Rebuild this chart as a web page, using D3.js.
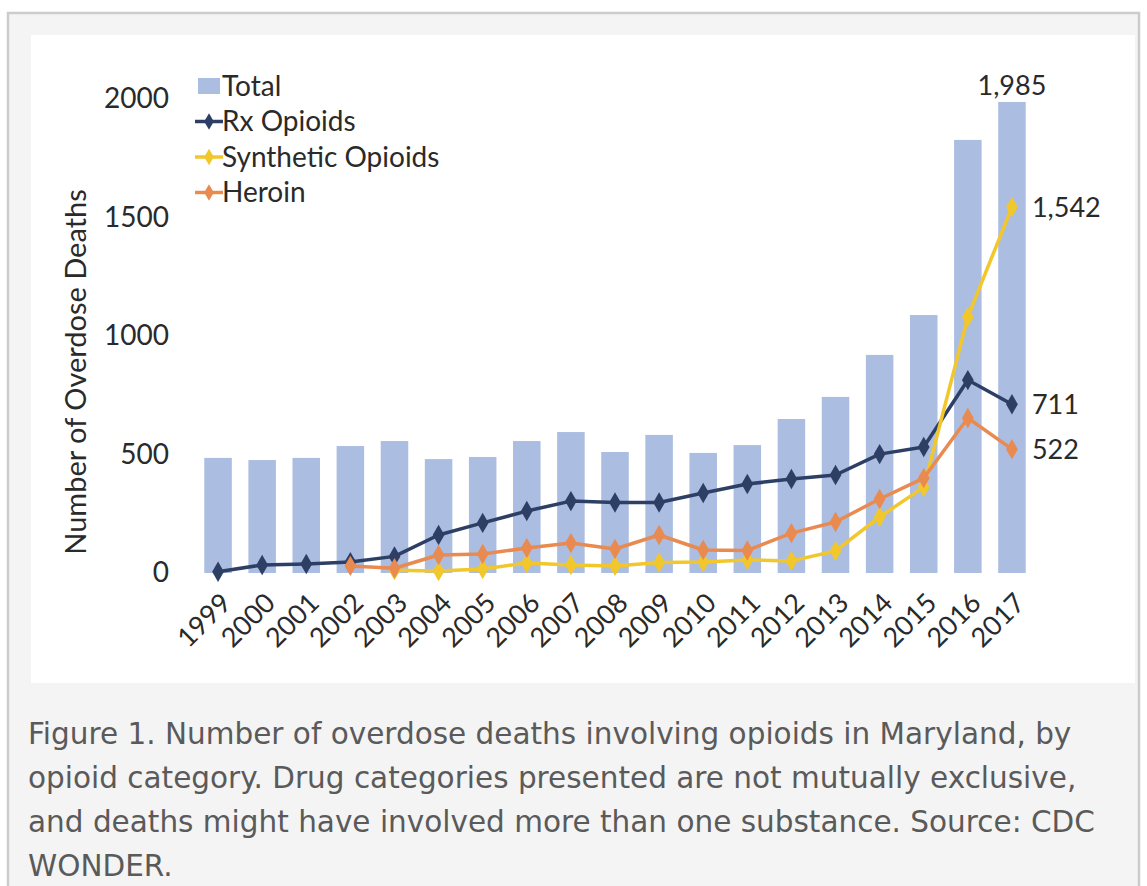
<!DOCTYPE html>
<html><head><meta charset="utf-8">
<script src="https://cdn.jsdelivr.net/npm/d3@7"></script>
<style>
html,body{margin:0;padding:0;background:#fff;}
svg{display:block;}
</style></head>
<body>
<svg id="c" width="1147" height="886"></svg>
<script>
const years = ["1999","2000","2001","2002","2003","2004","2005","2006","2007","2008","2009","2010","2011","2012","2013","2014","2015","2016","2017"];
const total = [485,476,485,535,556,480,489,556,594,510,582,506,539,649,742,919,1087,1825,1985];
const rxOpioids = [5,34,38,46,70,160,211,261,303,297,297,337,375,396,413,501,531,813,711];
const syntheticOpioids = [null,null,null,null,12,8,17,42,34,30,44,46,55,51,93,236,362,1079,1542];
const heroin = [null,null,null,30,20,76,80,105,126,101,160,97,95,168,215,312,400,653,522];
const yTicks = [0,500,1000,1500,2000];
const legendLabels = ["Total","Rx Opioids","Synthetic Opioids","Heroin"];
const captionLines = [
  "Figure 1. Number of overdose deaths involving opioids in Maryland, by",
  "opioid category. Drug categories presented are not mutually exclusive,",
  "and deaths might have involved more than one substance. Source: CDC",
  "WONDER."
];

const svg = d3.select("#c");
const colors = {bar:"#abbde1", rx:"#2e3f66", syn:"#f2c72c", her:"#e98a50"};
const font = "Lato, 'Open Sans', sans-serif";
const ink = "#2a2a2a";

// page background + border
svg.append("rect").attr("x",0).attr("y",0).attr("width",1147).attr("height",886).attr("fill","#ffffff");
svg.append("rect").attr("x",8).attr("y",13).attr("width",1131).attr("height",890)
  .attr("fill","#f4f4f4").attr("stroke","#cccccc").attr("stroke-width",2.5);
svg.append("rect").attr("x",31).attr("y",35).attr("width",1104).attr("height",648).attr("fill","#ffffff");

const x = d3.scaleBand().domain(years).range([196,1034]).paddingInner(0.376).paddingOuter(0.188);
const y = d3.scaleLinear().domain([0,2000]).range([573,98.4]);
const cx = d => x(d) + x.bandwidth()/2;

// bars
svg.append("g").selectAll("rect").data(years).join("rect")
  .attr("x", d => x(d)).attr("width", x.bandwidth())
  .attr("y", (d,i) => y(total[i])).attr("height", (d,i) => y(0) - y(total[i]))
  .attr("fill", colors.bar);

// y axis
const yAxis = d3.axisLeft(y).tickValues(yTicks).tickSize(0).tickPadding(0).tickFormat(d3.format("d"));
const ga = svg.append("g").attr("transform","translate(169,0)").call(yAxis);
ga.select(".domain").remove();
ga.selectAll("text").attr("font-family",font).attr("font-size",28).attr("fill",ink);

// x axis
const xAxis = d3.axisBottom(x).tickSize(0).tickPadding(0);
const gx = svg.append("g").attr("transform","translate(0,598)").call(xAxis);
gx.select(".domain").remove();
gx.selectAll("text").attr("font-family",font).attr("font-size",27).attr("fill",ink)
  .attr("text-anchor","end").attr("dy","0.35em").attr("dx",0)
  .attr("transform","translate(8,0) rotate(-45)");

// y title
svg.append("text").attr("transform","translate(76,372) rotate(-90)")
  .attr("text-anchor","middle").attr("dy","0.35em")
  .attr("font-family",font).attr("font-size",29).attr("fill",ink)
  .text("Number of Overdose Deaths");

// lines
const series = [
  {vals: rxOpioids, color: colors.rx},
  {vals: syntheticOpioids, color: colors.syn},
  {vals: heroin, color: colors.her}
];
const line = d3.line().defined(d => d.v != null).x(d => cx(d.yr)).y(d => y(d.v));
const sym = d3.symbol().type(d3.symbolDiamond).size(120);
series.forEach(s => {
  const pts = years.map((yr,i) => ({yr, v: s.vals[i]}));
  svg.append("path").datum(pts).attr("d", line).attr("fill","none")
    .attr("stroke", s.color).attr("stroke-width",3.5).attr("stroke-linejoin","round");
  svg.append("g").selectAll("path").data(pts.filter(p => p.v != null)).join("path")
    .attr("d", sym).attr("transform", p => `translate(${cx(p.yr)},${y(p.v)})`)
    .attr("fill", s.color);
});

// annotations
const last = years.length - 1;
const ann = (txt, xx, yy, anchor) => svg.append("text").attr("x",xx).attr("y",yy)
  .attr("text-anchor",anchor).attr("dy","0.35em")
  .attr("font-family",font).attr("font-size",27).attr("fill",ink).text(txt);
const fmt = d3.format(",");
ann(fmt(total[last]), cx(years[last]), y(total[last]) - 16, "middle");
ann(fmt(syntheticOpioids[last]), cx(years[last]) + 20, y(syntheticOpioids[last]), "start");
ann(fmt(rxOpioids[last]), cx(years[last]) + 20, y(rxOpioids[last]), "start");
ann(fmt(heroin[last]), cx(years[last]) + 20, y(heroin[last]), "start");

// legend
const lg = svg.append("g");
const legColors = [colors.bar, colors.rx, colors.syn, colors.her];
legendLabels.forEach((lab,i) => {
  const ly = 86 + i*35.5;
  if (i === 0) {
    lg.append("rect").attr("x",198).attr("y",ly-8).attr("width",22).attr("height",16).attr("fill",legColors[i]);
  } else {
    lg.append("line").attr("x1",195).attr("x2",223).attr("y1",ly).attr("y2",ly)
      .attr("stroke",legColors[i]).attr("stroke-width",3.5);
    lg.append("path").attr("d", d3.symbol().type(d3.symbolDiamond).size(80))
      .attr("transform",`translate(209,${ly})`).attr("fill",legColors[i]);
  }
  lg.append("text").attr("x",222).attr("y",ly).attr("dy","0.35em")
    .attr("font-family",font).attr("font-size",28).attr("fill",ink).text(lab);
});

// caption
svg.append("g").selectAll("text").data(captionLines).join("text")
  .attr("x",28).attr("y",(d,i) => 744 + i*44)
  .attr("font-family","'DejaVu Sans', sans-serif").attr("font-size",29.5).attr("fill","#5a5a5a")
  .text(d => d);
</script>
</body></html>
